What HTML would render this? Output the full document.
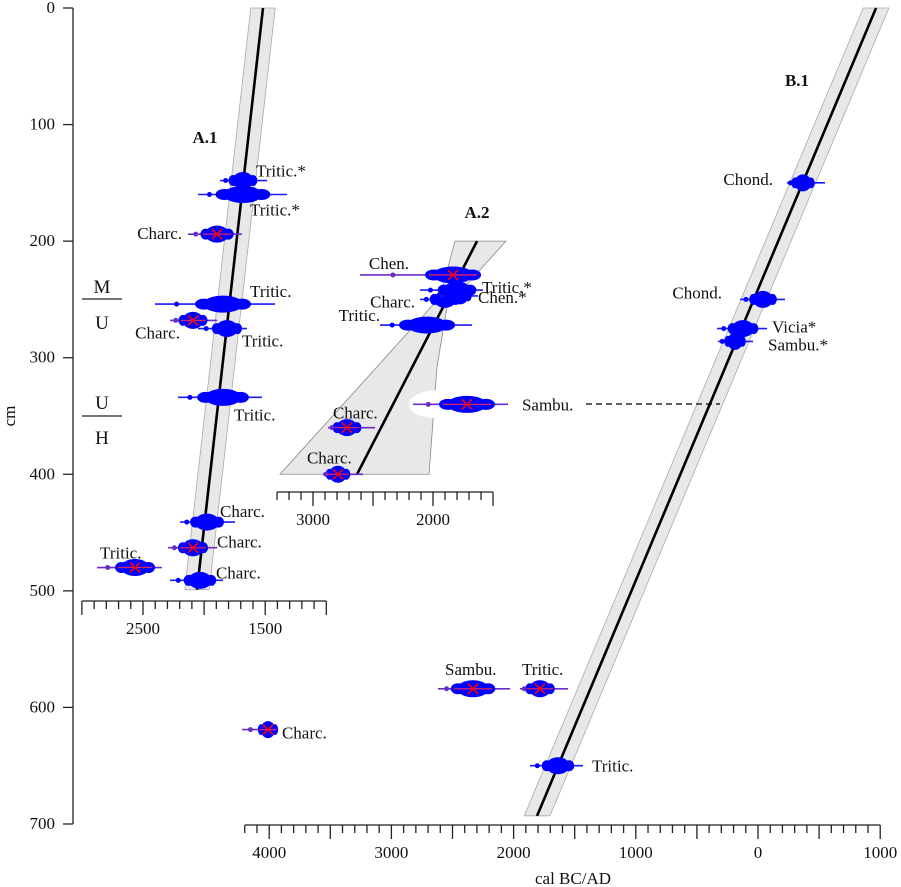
<!DOCTYPE html>
<html><head><meta charset="utf-8"><style>
html,body{margin:0;padding:0;background:#fff;}
svg{display:block;font-family:"Liberation Serif",serif;}
</style></head><body>
<svg id="chart" width="901" height="887" viewBox="0 0 901 887" xmlns="http://www.w3.org/2000/svg">
<g id="bands"></g>
<g id="axes" fill="none" stroke="#222" stroke-width="1.3"></g>
<g id="marks"></g>
<g id="texts" font-size="17" fill="#111"></g>
</svg>
<script>
// ---- Panel A.1 data (cal BC) ----
const a1Labels = ["Tritic.*","Tritic.*","Charc.","Tritic.","Charc.","Tritic.","Tritic.","Charc.","Charc.","Charc.","Tritic."];
const a1Depths = [148,160,194,254,268,275,334,441,463,491,480];
const a1Centers = [1682,1682,1894,1845,2091,1813,1845,1976,2091,2034,2565];
const a1Lo = [1870,2050,2132,2402,2279,2050,2214,2197,2295,2279,2876];
const a1Hi = [1485,1322,1690,1420,1894,1649,1526,1747,1894,1845,2345];
const a1Outlier = [0,0,1,0,1,0,0,0,1,0,1];
const a1LabelOff = [[13,-4,"start"],[7,21,"start"],[-35,5,"end"],[27,-7,"start"],[-13,18,"end"],[15,18,"start"],[11,23,"start"],[13,-5,"start"],[24,0,"start"],[16,-2,"start"],[-35,-9,"start"]];
const a1Model = {d0:0, bc0:1518, d1:499, bc1:2058, err:100};

// ---- Panel A.2 data (cal BC) ----
const a2Labels = ["Chen.","Tritic.*","Charc.","Chen.*","Tritic.","Sambu.","Charc.","Charc."];
const a2Depths = [229,242,250,247,272,340,360,400];
const a2Centers = [1833,1800,1900,1775,2050,1717,2717,2792];
const a2Lo = [2608,2108,2108,1942,2442,2167,2875,2917];
const a2Hi = [1717,1583,1692,1625,1675,1375,2483,2583];
const a2Outlier = [1,0,0,0,0,1,1,1];
const a2LabelOff = [[-44,-6,"end"],[25,3,"start"],[-30,8,"end"],[18,7,"start"],[-47,-4,"end"],[55,6,"start"],[-14,-9,"start"],[-31,-11,"start"]];
const a2EnvDepth = [200,200,256,308,400,400,248];
const a2EnvBC = [1817,1392,1883,1967,2033,3275,1942];
const a2LineDepth = [200,400];
const a2LineBC = [1633,2633];

// ---- Panel B.1 / main data (AD positive, BC negative) ----
const bLabels = ["Chond.","Chond.","Vicia*","Sambu.*","Sambu.","Tritic.","Charc.","Tritic."];
const bDepths = [150,250,275,286,584,584,619,650];
const bCenters = [368,41,-123,-188,-2332,-1784,-4010,-1637];
const bLo = [237,-147,-335,-327,-2619,-1948,-4222,-1866];
const bHi = [548,221,74,-41,-2029,-1555,-3952,-1432];
const bOutlier = [0,0,0,0,1,1,1,0];
const bLabelOff = [[-30,2,"end"],[-41,-1,"end"],[29,4,"start"],[33,9,"start"],[-28,-14,"start"],[-18,-14,"start"],[14,9,"start"],[34,6,"start"]];
const bModel = {d0:0, yr0:966, d1:693, yr1:-1808, err:105};

const depthTicks = [0,100,200,300,400,500,600,700];
const mainTickLabels = [4000,3000,2000,1000,0,1000];
const mainTickYears = [-4000,-3000,-2000,-1000,0,1000];

// scales
const yOf = d => 8 + d*1.1657;
const xA1 = bc => 143 + (2500-bc)*0.1222;
const xA2 = bc => 313 + (3000-bc)*0.12;
const xM = yr => 758 + yr*0.1222;

const NS="http://www.w3.org/2000/svg";
function mk(tag, attrs, parent){const e=document.createElementNS(NS,tag);for(const k in attrs)e.setAttribute(k,attrs[k]);parent.appendChild(e);return e;}
const gB=document.getElementById('bands'), gA=document.getElementById('axes'), gM=document.getElementById('marks'), gT=document.getElementById('texts');

function text(str,x,y,anchor,name,extra){const t=mk('text',{x:x,y:y,'text-anchor':anchor||'start'},gT);t.textContent=str;


if(extra)for(const k in extra)t.setAttribute(k,extra[k]);return t;}

// ---- models ----
function linearBand(xf,d0,v0,d1,v1,err,name){
  const pts=[[xf(v0-err),yOf(d0)],[xf(v0+err),yOf(d0)],[xf(v1+err),yOf(d1)],[xf(v1-err),yOf(d1)]];
  const p=mk('polygon',{points:pts.map(q=>q.join(',')).join(' '),fill:'#e8e8e8',stroke:'#aaa','stroke-width':0.8},gB);
  
  
  const l=mk('line',{x1:xf(v0),y1:yOf(d0),x2:xf(v1),y2:yOf(d1),stroke:'#000','stroke-width':2.6},gB);
  
  
}
linearBand(xA1,a1Model.d0,a1Model.bc0,a1Model.d1,a1Model.bc1,a1Model.err,'a1-model');
linearBand(xM,bModel.d0,bModel.yr0,bModel.d1,bModel.yr1,bModel.err,'b1-model');
// A2 envelope
{
  const pts=a2EnvDepth.map((d,i)=>xA2(a2EnvBC[i])+','+yOf(d)).join(' ');
  const p=mk('polygon',{points:pts,fill:'#e8e8e8',stroke:'#888','stroke-width':0.8},gB);
  
  
  const n=mk('ellipse',{cx:436,cy:yOf(340),rx:27,ry:14,fill:'#fff'},gB);
  
  
  const l=mk('line',{x1:xA2(a2LineBC[0]),y1:yOf(a2LineDepth[0]),x2:xA2(a2LineBC[1]),y2:yOf(a2LineDepth[1]),stroke:'#000','stroke-width':2.6},gB);
  
  
}

// ---- dates ----
function drawDate(cx,lo,hi,y,out,name){
  const g=mk('g',{},gM);
  
  
  const a=Math.min(lo,hi), b=Math.max(lo,hi);
  mk('line',{x1:a,y1:y,x2:b,y2:y,stroke:out?'#6a2cc8':'#1a1aff','stroke-width':1.6},g);
  const rx=Math.max(7,Math.min(20,(b-a)*0.22));
  mk('ellipse',{cx:cx,cy:y,rx:rx,ry:8.5,fill:'#0000ff'},g);
  mk('ellipse',{cx:cx-rx*0.95,cy:y,rx:rx*0.45,ry:5.5,fill:'#0000ff'},g);
  mk('ellipse',{cx:cx+rx*0.95,cy:y,rx:rx*0.45,ry:5.5,fill:'#0000ff'},g);
  mk('circle',{cx:a+(cx-rx-a)*0.45,cy:y,r:2.5,fill:out?'#6a2cc8':'#0000ff'},g);
  if(out){
    mk('line',{x1:cx-rx*1.2,y1:y,x2:cx+rx*1.2,y2:y,stroke:'#e0206a','stroke-width':1.3},g);
    mk('path',{d:`M${cx-5},${y-5}L${cx+5},${y+5}M${cx-5},${y+5}L${cx+5},${y-5}`,stroke:'#ff0000','stroke-width':1.6,fill:'none'},g);
  }
}
function panel(labels,depths,centers,lo,hi,outl,offs,xf,prefix){
  labels.forEach((lab,i)=>{
    const cx=xf(centers[i]), y=yOf(depths[i]);
    drawDate(cx,xf(lo[i]),xf(hi[i]),y,outl[i],prefix+'-date-'+(i+1));
    text(lab,cx+offs[i][0],y+offs[i][1],offs[i][2],prefix+'-date-label-'+(i+1));
  });
}
panel(a1Labels,a1Depths,a1Centers,a1Lo,a1Hi,a1Outlier,a1LabelOff,xA1,'a1');
panel(a2Labels,a2Depths,a2Centers,a2Lo,a2Hi,a2Outlier,a2LabelOff,xA2,'a2');
panel(bLabels,bDepths,bCenters,bLo,bHi,bOutlier,bLabelOff,xM,'b1');

// ---- y axis ----
{
  const ax=mk('line',{x1:73,y1:yOf(0),x2:73,y2:yOf(700)},gA);
  
  
  depthTicks.forEach(d=>{
    mk('line',{x1:63,y1:yOf(d),x2:73,y2:yOf(d)},gA);
    text(String(d),55,yOf(d)+5,'end','y-tick-label');
  });
  text('cm',15,416,'middle','y-axis-title',{transform:'rotate(-90 15 416)'});
}
// ---- horizontal axes ----
function hAxis(xf,from,to,step,major,y,labels,labelVals,name){
  const l=mk('line',{x1:xf(from),y1:y,x2:xf(to),y2:y},gA);
  
  
  for(let v=from; step>0? v<=to+1e-6 : v>=to-1e-6; v+=step){
    const m=(Math.round(Math.abs(v))%major===0);
    mk('line',{x1:xf(v),y1:y,x2:xf(v),y2:y+(m?14:8)},gA);
  }
  labelVals.forEach((v,i)=>text(String(labels[i]),xf(v),y+33,'middle',name+'-tick-label'));
}
hAxis(xM,-4200,1000,100,500,825,mainTickLabels,mainTickYears,'main-x-axis');
hAxis(xA1,3000,1000,-100,500,601,[2500,1500],[2500,1500],'a1-x-axis');
hAxis(xA2,3300,1500,-100,500,492,[3000,2000],[3000,2000],'a2-x-axis');
text('cal BC/AD',573,884,'middle','x-axis-title');

// ---- panel titles & zone markers ----
text('A.1',205,143,'middle','a1-title',{'font-weight':'bold'});
text('A.2',477,218,'middle','a2-title',{'font-weight':'bold'});
text('B.1',797,86,'middle','b1-title',{'font-weight':'bold'});
text('M',102,293,'middle','zone-m-label',{'font-size':'19'});
text('U',102,329,'middle','zone-u-label',{'font-size':'19'});
text('U',102,409,'middle','zone-u2-label',{'font-size':'19'});
text('H',102,444,'middle','zone-h-label',{'font-size':'19'});
mk('line',{x1:82,y1:299,x2:122,y2:299},gA);
mk('line',{x1:82,y1:416,x2:122,y2:416},gA);
{
  const d=mk('line',{x1:586,y1:404,x2:720,y2:404,stroke:'#000','stroke-dasharray':'6,4','stroke-width':1.3},gM);
  
  
}
</script>
</body></html>
